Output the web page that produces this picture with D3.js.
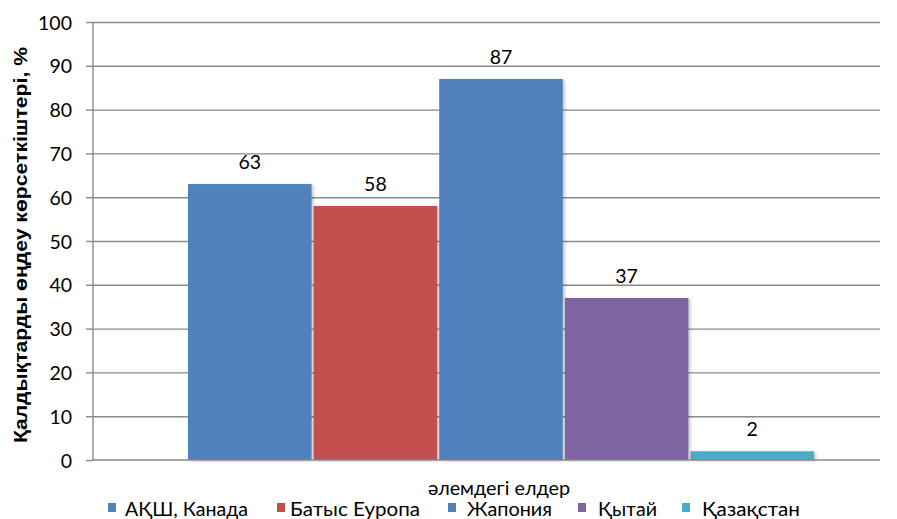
<!DOCTYPE html>
<html>
<head>
<meta charset="utf-8">
<script src="https://cdn.jsdelivr.net/npm/d3@7"></script>
<style>
  html, body { margin: 0; padding: 0; background: #fff; }
  svg { display: block; font-family: Lato, "Liberation Sans", sans-serif; }
</style>
</head>
<body>
<svg id="chart" width="897" height="519"></svg>
<script>
// Waste processing rates by region, %
const seriesNames = ["АҚШ, Канада", "Батыс Еуропа", "Жапония", "Қытай", "Қазақстан"];
const seriesValues = [63, 58, 87, 37, 2];
const seriesColors = ["#4F81BD", "#C0504D", "#4F81BD", "#8064A2", "#4BACC6"];
const yTicks = [0, 10, 20, 30, 40, 50, 60, 70, 80, 90, 100];
const yTitle = "Қалдықтарды өңдеу көрсеткіштері, %";
const xTitle = "әлемдегі елдер";

const svg = d3.select("#chart");
const plot = { left: 93, right: 880, top: 22, bottom: 460 };
const gridColor = "#8a8a8a";
const fontSize = 19.5;

const y = d3.scaleLinear().domain([0, 100]).range([plot.bottom, plot.top]);
const x = d3.scaleBand().domain(seriesNames).range([188, 814]).paddingInner(0.016);

// soft drop shadow under the bars
const defs = svg.append("defs");
const f = defs.append("filter").attr("id", "shadow")
  .attr("x", "-10%").attr("y", "-10%").attr("width", "130%").attr("height", "130%");
f.append("feDropShadow").attr("dx", 2).attr("dy", 1).attr("stdDeviation", 1.5)
  .attr("flood-color", "#000").attr("flood-opacity", 0.22);

// horizontal gridlines
svg.append("g")
  .attr("transform", `translate(${plot.left},0)`)
  .call(d3.axisLeft(y).tickValues(yTicks.slice(1)).tickSize(-(plot.right - plot.left)).tickFormat(""))
  .call(g => g.select(".domain").remove())
  .call(g => g.selectAll("line").attr("stroke", gridColor).attr("stroke-width", 1.4));

// y axis
const yAxis = svg.append("g")
  .attr("transform", `translate(${plot.left},0)`)
  .call(d3.axisLeft(y).tickValues(yTicks).tickSize(7).tickPadding(14).tickFormat(d3.format("d")));
yAxis.select(".domain").attr("stroke", gridColor).attr("stroke-width", 1.4)
  .attr("d", `M0,${plot.bottom}V${plot.top}`);
yAxis.selectAll("line").attr("stroke", gridColor).attr("stroke-width", 1.4);
yAxis.selectAll("text").attr("font-size", fontSize).attr("fill", "#000")
  .attr("font-family", "Lato, sans-serif").attr("dy", "0.36em");

// bars
svg.append("g").selectAll("rect")
  .data(seriesNames)
  .join("rect")
  .attr("x", d => x(d))
  .attr("y", (d, i) => y(seriesValues[i]))
  .attr("width", x.bandwidth())
  .attr("height", (d, i) => y(0) - y(seriesValues[i]))
  .attr("fill", (d, i) => seriesColors[i])
  .attr("filter", "url(#shadow)");

// category axis line
svg.append("line")
  .attr("x1", plot.left).attr("x2", plot.right)
  .attr("y1", y(0)).attr("y2", y(0))
  .attr("stroke", gridColor).attr("stroke-width", 1.6);

// value labels
svg.append("g").selectAll("text")
  .data(seriesNames)
  .join("text")
  .attr("x", d => x(d) + x.bandwidth() / 2)
  .attr("y", (d, i) => y(seriesValues[i]) - 15)
  .attr("text-anchor", "middle")
  .attr("font-size", fontSize)
  .attr("fill", "#000")
  .text((d, i) => seriesValues[i]);

// y title
svg.append("text")
  .attr("transform", `translate(27,${245}) rotate(-90)`)
  .attr("text-anchor", "middle")
  .attr("font-family", "'Liberation Sans', Arial, sans-serif")
  .attr("font-size", 18)
  .attr("font-weight", "bold")
  .attr("fill", "#000")
  .attr("textLength", 396)
  .attr("lengthAdjust", "spacingAndGlyphs")
  .text(yTitle);

// x title
svg.append("text")
  .attr("x", 428).attr("y", 495)
  .attr("font-size", fontSize)
  .attr("fill", "#000")
  .attr("textLength", 142)
  .attr("lengthAdjust", "spacingAndGlyphs")
  .text(xTitle);

// legend
const legendSquareX = [108, 277, 448, 578, 682];
const legendTextX = [125, 290, 467, 598, 702];
const legendTextW = [123, 130, 85, 59, 98];
const legendFont = 18.5;
const legend = svg.append("g").selectAll("g")
  .data(seriesNames)
  .join("g");
legend.append("rect")
  .attr("x", (d, i) => legendSquareX[i]).attr("y", 503)
  .attr("width", 8).attr("height", 9)
  .attr("fill", (d, i) => seriesColors[i]);
legend.append("text")
  .attr("x", (d, i) => legendTextX[i]).attr("y", 516)
  .attr("font-size", legendFont).attr("fill", "#000")
  .attr("textLength", (d, i) => legendTextW[i])
  .attr("lengthAdjust", "spacingAndGlyphs")
  .text(d => d);
</script>
</body>
</html>
